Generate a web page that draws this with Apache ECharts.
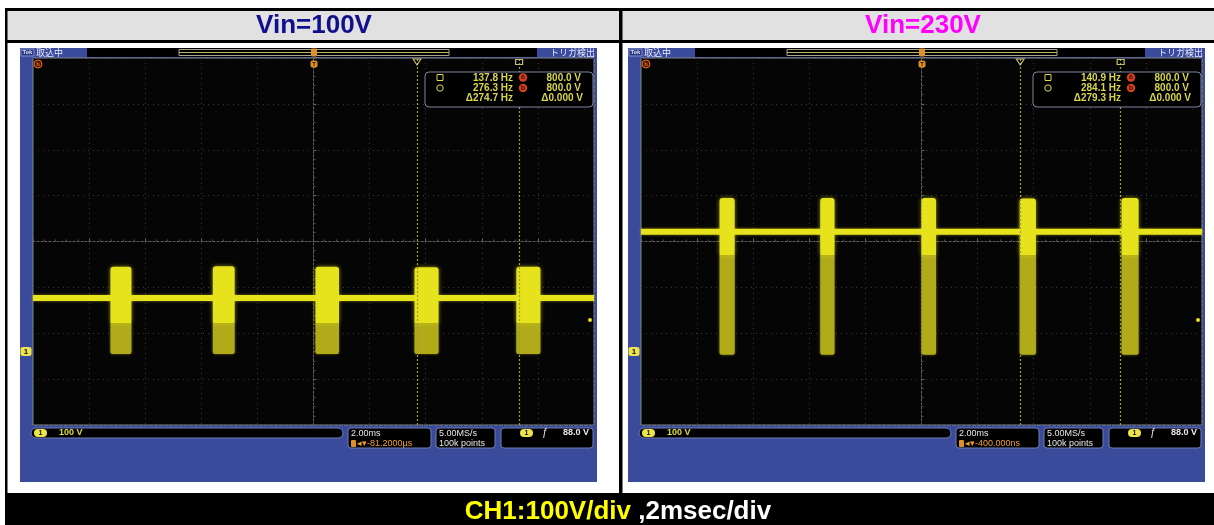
<!DOCTYPE html>
<html>
<head>
<meta charset="utf-8">
<title>Vin=100V / Vin=230V</title>
<script src="https://cdn.jsdelivr.net/npm/echarts@6/dist/echarts.min.js"></script>
<style>
  html, body { margin: 0; padding: 0; background: #fff; }
  #chart { width: 1214px; height: 525px; }
</style>
</head>
<body>
<div id="chart"></div>
<script>
// time axis in ms, 2 ms/div, 10 divisions
const timeMin = -10
const timeMax = 10
const timeStep = 2
// screen divisions, 8 vertical
const divMin = -4
const divMax = 4
// CH1 in volts, 100 V/div, ground 2.4 div under the centre line
const voltMin = -160
const voltMax = 640

// Vin=100V capture
const baseline100 = 117
const burstStart100 = [-7.24, -3.59, 0.07, 3.6, 7.23]
const burstEnd100 = [-6.49, -2.81, 0.91, 4.46, 8.09]
const burstLow100 = [-5, -5, -5, -5, -5]
const burstMid100 = [62, 62, 62, 62, 62]
const burstHigh100 = [185, 186, 185, 184, 185]
const cursors100 = [3.69, 7.33]
const trigLevel100 = 69
const cursorText100 = ['137.8 Hz', '276.3 Hz', 'Δ274.7 Hz']
const delay100 = '-81.2000µs'

// Vin=230V capture
const baseline230 = 261
const burstStart230 = [-7.2, -3.61, 0.0, 3.5, 7.13]
const burstEnd230 = [-6.66, -3.1, 0.52, 4.08, 7.74]
const burstLow230 = [-7, -7, -7, -7, -7]
const burstMid230 = [210, 210, 210, 210, 210]
const burstHigh230 = [335, 335, 335, 334, 335]
const cursors230 = [3.52, 7.1]
const trigLevel230 = 69
const cursorText230 = ['140.9 Hz', '284.1 Hz', 'Δ279.3 Hz']
const delay230 = '-400.000ns'

const FONT = '"Liberation Sans", Arial, sans-serif'
const CJK = '"Noto Sans CJK JP", sans-serif'
const SCOPE_BLUE = '#3b4b9b'
const TRACE = '#e6e21c'
const TRACE_DIM = '#b1ab1a'
const READ = '#d8d64c'
const BOX_EDGE = '#6f7cb2'

const chart = echarts.init(document.getElementById('chart'))

function txt(x, y, s, fill, size, align, bold, font) {
  return {
    type: 'text', x: x, y: y, z: 20, silent: true,
    style: {
      text: s, fill: fill,
      font: (bold === false ? '' : 'bold ') + size + 'px ' + (font || FONT),
      textAlign: align || 'left', textVerticalAlign: 'middle',
      align: align || 'left', verticalAlign: 'middle'
    }
  }
}

function box(x, y, w, h, fill, stroke, r, z) {
  return {
    type: 'rect', z: z == null ? 20 : z, silent: true,
    shape: { x: x, y: y, width: w, height: h, r: r || 0 },
    style: { fill: fill, stroke: stroke || null, lineWidth: stroke ? 1 : 0 }
  }
}

function ring(x, y, r, fill, stroke) {
  return {
    type: 'circle', z: 20, silent: true,
    shape: { cx: x, cy: y, r: r },
    style: { fill: fill, stroke: stroke || null, lineWidth: stroke ? 1 : 0 }
  }
}

// frame, status strip and readouts of one scope screenshot
function scopeChrome(fx, cursorText, delay) {
  return [
    box(fx, 48, 577, 434, SCOPE_BLUE, null, 0, -5),
    box(fx + 67, 48, 450, 9, '#000', null, 0, -4),
    box(fx + 159, 49.5, 270, 6, 'none', '#a9a88a', 0, 5),
    { type: 'line', z: 6, silent: true, shape: { x1: fx + 159, y1: 52.5, x2: fx + 429, y2: 52.5 }, style: { stroke: '#bdb860', lineWidth: 1 } },
    box(fx + 291, 48.5, 6, 8, '#e0902a', null, 1, 7),
    box(fx + 1, 49, 13, 7, '#2c3a80', '#8090d0', 0, 6),
    txt(fx + 7.5, 52.5, 'Tek', '#d8dcf4', 6, 'center'),
    txt(fx + 16, 52.5, '取込中', '#e6e9ff', 9, 'left', false, CJK),
    txt(fx + 575, 52.5, 'トリガ検出', '#e6e9ff', 9, 'right', false, CJK),

    // markers on the plot top
    ring(fx + 18, 64, 4, '#4a1400', '#f06a24'),
    txt(fx + 18, 64, 'b', '#f06a24', 6, 'center'),
    box(fx + 290.5, 60.5, 7, 7, '#e0902a', null, 2, 20),
    txt(fx + 294, 64, 'T', '#3a1a00', 6, 'center'),

    // cursor readout
    box(fx + 405, 72, 168, 35, '#000', '#7f86a0', 4),
    box(fx + 417, 74.5, 6, 6, 'none', READ, 0),
    ring(fx + 420, 88, 3.2, 'none', READ),
    txt(fx + 493, 78, cursorText[0], READ, 10, 'right'),
    txt(fx + 493, 88, cursorText[1], READ, 10, 'right'),
    txt(fx + 493, 98.5, cursorText[2], READ, 10, 'right'),
    ring(fx + 503, 77.5, 4.2, '#d8401e'),
    txt(fx + 503, 77.5, 'a', '#40100a', 7, 'center'),
    ring(fx + 503, 88, 4.2, '#d8401e'),
    txt(fx + 503, 88, 'b', '#40100a', 7, 'center'),
    txt(fx + 561, 78, '800.0 V', READ, 10, 'right'),
    txt(fx + 561, 88, '800.0 V', READ, 10, 'right'),
    txt(fx + 563, 98.5, 'Δ0.000 V', READ, 10, 'right'),

    // bottom readouts
    box(fx + 11, 428, 312, 10, '#000', BOX_EDGE, 5),
    box(fx + 14, 429, 13, 8, '#ece44a', null, 4),
    txt(fx + 20.5, 433, '1', '#111', 7, 'center'),
    txt(fx + 39, 433, '100 V', '#e2dc3c', 9, 'left'),
    box(fx + 328, 428, 83, 20, '#000', BOX_EDGE, 3),
    txt(fx + 331, 433.5, '2.00ms', '#e8e8e8', 9, 'left', false),
    box(fx + 331, 440, 5, 7, '#e0902a', null, 1),
    txt(fx + 337, 443.5, '◂▾' + delay, '#f0a030', 9, 'left', false),
    box(fx + 416, 428, 59, 20, '#000', BOX_EDGE, 3),
    txt(fx + 419, 433.5, '5.00MS/s', '#e8e8e8', 9, 'left', false),
    txt(fx + 419, 443.5, '100k points', '#e8e8e8', 9, 'left', false),
    box(fx + 481, 428, 92, 20, '#000', BOX_EDGE, 3),
    box(fx + 500, 429, 13, 8, '#ece44a', null, 4),
    txt(fx + 506.5, 433, '1', '#111', 7, 'center'),
    txt(fx + 525, 433, 'ƒ', '#e8e8e8', 10, 'center', false),
    txt(fx + 569, 433, '88.0 V', '#e8e8e8', 9, 'right')
  ]
}

function renderBurst(params, api) {
  const t0 = api.value(0)
  const t1 = api.value(1)
  const pLow = api.coord([t0, api.value(2)])
  const pMid = api.coord([t1, api.value(3)])
  const pHigh = api.coord([t0, api.value(4)])
  const w = pMid[0] - pLow[0]
  return {
    type: 'group',
    children: [
      {
        type: 'rect',
        shape: { x: pLow[0], y: pMid[1], width: w, height: pLow[1] - pMid[1], r: [0, 0, 2, 2] },
        style: { fill: TRACE_DIM, shadowBlur: 3, shadowColor: 'rgba(200,195,30,0.5)' }
      },
      {
        type: 'rect',
        shape: { x: pLow[0], y: pHigh[1], width: w, height: pMid[1] - pHigh[1], r: [3, 3, 0, 0] },
        style: { fill: TRACE, shadowBlur: 4, shadowColor: 'rgba(230,226,28,0.6)' }
      }
    ]
  }
}

function bursts(start, end, low, mid, high) {
  return start.map((t, i) => [t, end[i], low[i], mid[i], high[i]])
}

function timeAxis(gridIndex, zeroAxis) {
  return {
    type: 'value', gridIndex: gridIndex,
    min: timeMin, max: timeMax, interval: timeStep,
    axisLabel: { show: false },
    axisLine: { show: true, onZero: true, onZeroAxisIndex: zeroAxis, lineStyle: { color: '#606060', type: [2, 2] } },
    axisTick: { show: true, inside: true, length: 3, lineStyle: { color: '#606060' } },
    minorTick: { show: true, splitNumber: 5, length: 2, lineStyle: { color: '#505050' } },
    splitLine: { show: true, lineStyle: { color: '#3a3a3a', type: [1, 4] } }
  }
}

function divAxis(gridIndex, zeroAxis) {
  return {
    type: 'value', gridIndex: gridIndex,
    min: divMin, max: divMax, interval: 1,
    axisLabel: { show: false },
    axisLine: { show: true, onZero: true, onZeroAxisIndex: zeroAxis, lineStyle: { color: '#606060', type: [2, 2] } },
    axisTick: { show: true, inside: true, length: 3, lineStyle: { color: '#606060' } },
    minorTick: { show: true, splitNumber: 5, length: 2, lineStyle: { color: '#505050' } },
    splitLine: { show: true, lineStyle: { color: '#3a3a3a', type: [1, 4] } }
  }
}

function voltAxis(gridIndex) {
  return { type: 'value', gridIndex: gridIndex, min: voltMin, max: voltMax, show: false }
}

function traceSeries(axis, baseline, cursors, trigLevel) {
  return {
    type: 'line', xAxisIndex: axis, yAxisIndex: axis * 2 + 1,
    data: [[timeMin, baseline], [timeMax, baseline]],
    showSymbol: false, silent: true, z: 2,
    lineStyle: { color: TRACE, width: 6, shadowBlur: 3, shadowColor: 'rgba(230,226,28,0.5)' },
    markLine: {
      silent: true, symbol: ['none', 'none'], label: { show: false },
      lineStyle: { color: '#a29b3a', type: [2, 2], width: 1.2 },
      data: cursors.map(t => ({ xAxis: t }))
    },
    markPoint: {
      silent: true, label: { show: false },
      data: [
        {
          coord: [timeMin, 0], symbol: 'roundRect', symbolSize: [11, 9], symbolOffset: [-7, 0],
          itemStyle: { color: '#ece44a' },
          label: { show: true, formatter: '1', color: '#111', fontSize: 8, fontWeight: 'bold' }
        },
        { coord: [timeMax, trigLevel], symbol: 'circle', symbolSize: 4, symbolOffset: [-4, 0], itemStyle: { color: TRACE } },
        {
          coord: [cursors[0], voltMax], symbol: 'triangle', symbolRotate: 180, symbolSize: [8, 6], symbolOffset: [0, 4],
          itemStyle: { color: 'rgba(0,0,0,0)', borderColor: '#c8c070', borderWidth: 1 }
        },
        {
          coord: [cursors[1], voltMax], symbol: 'rect', symbolSize: [7, 5], symbolOffset: [0, 4],
          itemStyle: { color: 'rgba(0,0,0,0)', borderColor: '#c8c070', borderWidth: 1 }
        }
      ]
    }
  }
}

function burstSeries(axis, data) {
  return {
    type: 'custom', xAxisIndex: axis, yAxisIndex: axis * 2 + 1,
    renderItem: renderBurst, silent: true, z: 3,
    encode: { x: [0, 1], y: [2, 3, 4] },
    data: data
  }
}

const pageFrame = [
  box(6, 10, 1208, 31, '#e1e1e1', null, 0, -6),
  box(5, 8, 1209, 3, '#000', null, 0, -5),
  box(5, 40, 1209, 3, '#000', null, 0, -5),
  box(5, 8, 2.5, 517, '#000', null, 0, -5),
  box(619, 8, 3.5, 486, '#000', null, 0, -5),
  box(5, 493, 1209, 32, '#000', null, 0, -5)
]

const titleStyle = { fontSize: 26, fontWeight: 'bold', fontFamily: FONT }

const option = {
  animation: false,
  backgroundColor: '#fff',
  title: [
    { text: 'Vin=100V', left: 314, top: 12.5, textAlign: 'center', padding: 0, textStyle: Object.assign({ color: '#10108c' }, titleStyle) },
    { text: 'Vin=230V', left: 923, top: 12.5, textAlign: 'center', padding: 0, textStyle: Object.assign({ color: '#ff00ff' }, titleStyle) },
    {
      text: '{y|CH1:100V/div} {w|,2msec/div}', left: 618, top: 499, textAlign: 'center', padding: 0,
      textStyle: Object.assign({
        rich: {
          y: Object.assign({ color: '#ffff00' }, titleStyle),
          w: Object.assign({ color: '#ffffff' }, titleStyle)
        }
      }, titleStyle)
    }
  ],
  grid: [
    { left: 33, top: 58, width: 561, height: 367, show: true, backgroundColor: '#050505', borderColor: '#7e8a8c', borderWidth: 1 },
    { left: 641, top: 58, width: 561, height: 367, show: true, backgroundColor: '#050505', borderColor: '#7e8a8c', borderWidth: 1 }
  ],
  xAxis: [timeAxis(0, 0), timeAxis(1, 2)],
  yAxis: [divAxis(0, 0), voltAxis(0), divAxis(1, 1), voltAxis(1)],
  series: [
    traceSeries(0, baseline100, cursors100, trigLevel100),
    burstSeries(0, bursts(burstStart100, burstEnd100, burstLow100, burstMid100, burstHigh100)),
    traceSeries(1, baseline230, cursors230, trigLevel230),
    burstSeries(1, bursts(burstStart230, burstEnd230, burstLow230, burstMid230, burstHigh230))
  ],
  graphic: { elements: pageFrame.concat(scopeChrome(20, cursorText100, delay100), scopeChrome(628, cursorText230, delay230)) }
}

chart.setOption(option)
</script>
</body>
</html>
